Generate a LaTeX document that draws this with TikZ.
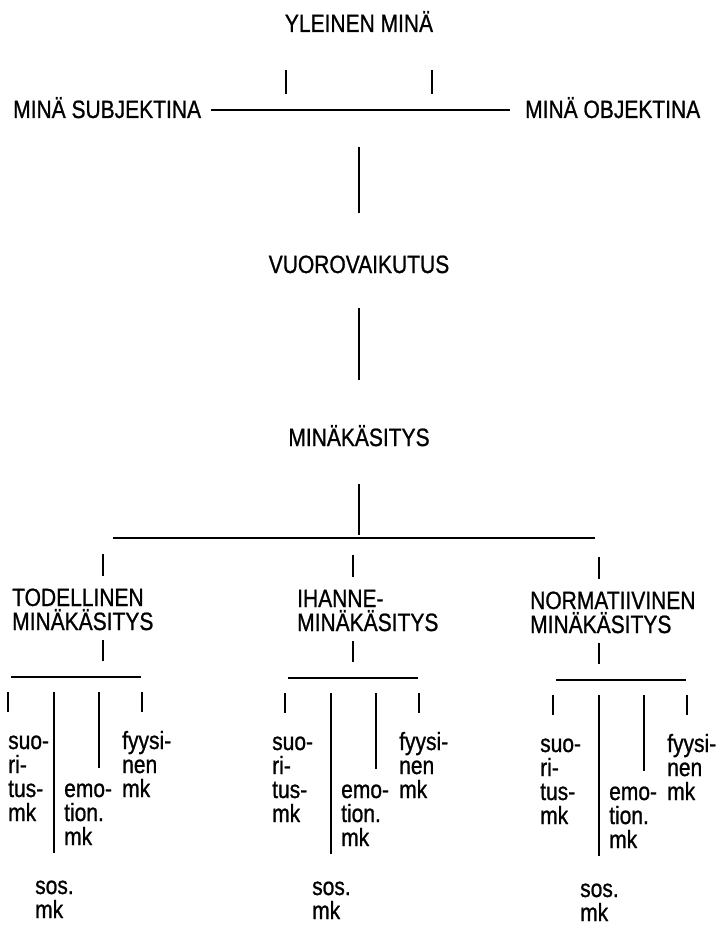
\documentclass[tikz,border=0pt]{standalone}
\usepackage{fontspec}
\setmainfont{Liberation Sans}[FakeStretch=0.84, FakeBold=0.9]

\begin{document}
\begin{tikzpicture}[
    x=1pt, y=-1pt,
    every node/.style={inner sep=0pt, font=\fontsize{25}{24}\selectfont},
    caption/.style={anchor=base},
    sublabel/.style={anchor=base west, align=left},
    rule/.style={line width=1.9pt}
]
    \useasboundingbox (0,0) rectangle (719,925);
        \node[caption] (YM) at (359,32) {YLEINEN MINÄ};
        \node[sublabel] (MS) at (13,118) {MINÄ SUBJEKTINA};
        \node[sublabel] (MO) at (525,118) {MINÄ OBJEKTINA};
        \node[caption] (VV) at (359,273) {VUOROVAIKUTUS};
        \node[caption] (MK) at (359,446) {MINÄKÄSITYS};
    \coordinate (hub) at (359,110);
    \coordinate (barL) at (113,538);
    \coordinate (barR) at (595,538);
    \coordinate (bar) at (359,538);
    \draw [rule] ([shift={(-73,38)}]YM.south) -- ++(0,24);
    \draw [rule] ([shift={(73,38)}]YM.south) -- ++(0,24);
    \draw [rule, shorten <=10pt, shorten >=15pt] (MS.east |- hub) -- (MO.west |- hub);
    \draw [rule] ([yshift=-37pt]hub) -- ([yshift=42pt]VV.north);
    \draw [rule] ([yshift=-35pt]VV.south) -- ([yshift=45pt]MK.north);
    \draw [rule] ([yshift=-38pt]MK.south) -- ([yshift=3pt]bar);
    \draw [rule] (barL) -- (barR);

    % three branches (base = last line of a node)
    \foreach \n/\T/\L/\S/\so/\dy/\txt in {
        T/103/12/8/0/0/{TODELLINEN\\MINÄKÄSITYS},
        I/353/297/285/-13/1/{IHANNE-\\MINÄKÄSITYS},
        N/599/530/553/-13/3/{NORMATIIVINEN\\MINÄKÄSITYS}} {
        \node[sublabel] (\n) at (\L,630+\dy) {\txt};
        \coordinate (\n-up) at (\T,554+\dy);
        \coordinate (\n-down) at (\T,640+\dy);
        \draw [rule] (\n-up) -- ++(0,22);
        \draw [rule] (\n-down) -- ++(0,21);
        \draw [rule] (\S+3,677+\dy) -- (\S+133,677+\dy);
        \draw [rule] (\S,692+\dy) -- ++(0,20);
        \draw [rule] (\S+46,692+\dy) -- ++(0,161);
        \draw [rule] (\S+91,692+\dy) -- ++(0,76);
        \draw [rule] (\S+134,692+\dy) -- ++(0,20);
        \node[sublabel] (\n-suo) at (\S+\so,821+\dy) {suo-\\ri-\\tus-\\mk};
        \node[sublabel] (\n-emo) at (\S+56,845+\dy) {emo-\\tion.\\mk};
        \node[sublabel] (\n-fyy) at (\S+114,797+\dy) {fyysi-\\nen\\mk};
        \node[sublabel] (\n-sos) at (\S+27,918+\dy) {sos.\\mk};
    }
    \end{tikzpicture}
\end{document}
